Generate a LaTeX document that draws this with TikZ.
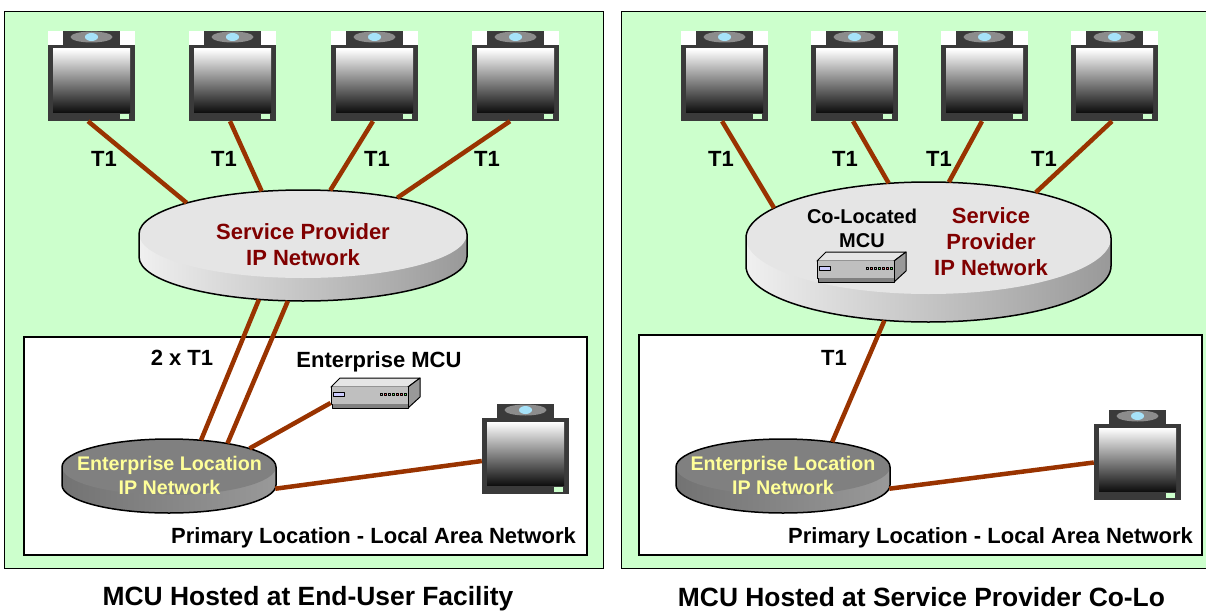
\documentclass[tikz,border=0pt]{standalone}
\usepackage{fontspec}
\setmainfont{Liberation Sans}
\usetikzlibrary{shapes.geometric}
\usetikzlibrary{positioning}

\definecolor{panelgreen}{HTML}{CCFFCC}
\definecolor{linkbrown}{HTML}{993300}
\definecolor{spred}{HTML}{800000}
\definecolor{entyellow}{HTML}{FFFF99}
\definecolor{framegray}{HTML}{3A3A3A}

\tikzset{
    panel/.style={draw=black,fill=panelgreen,line width=0.8pt},
    lan/.style={draw=black,fill=white,line width=1.5pt},
    link/.style={draw=linkbrown,line width=4.5pt},
    lbl/.style={font=\fontsize{22}{26}\selectfont\bfseries,align=center,inner sep=0pt},
    splabel/.style={lbl,text=spred},
    entlabel/.style={lbl,font=\fontsize{19.7}{24}\selectfont\bfseries,text=entyellow},
    caption/.style={font=\fontsize{26.4}{30}\selectfont\bfseries,inner sep=0pt},
    mculabel/.style={lbl,font=\fontsize{20}{24}\selectfont\bfseries},
    monbody/.style={rectangle,minimum width=87pt,minimum height=90pt,inner sep=0pt},
    mcubody/.style={rectangle,minimum width=77pt,minimum height=21pt,inner sep=0pt},
    lightdisk/.style={fill=black!10},
    darkdisk/.style={fill=black!50},
    lightside/.style={left color=black!6,right color=black!40},
    darkside/.style={left color=black!55,right color=black!40}
}

% name, left, top
\newcommand{\monitor}[3]{
    \begin{scope}[shift={(#2,-#3)}]
        \fill[white] (0,0) rectangle (87,-14);
        \fill[framegray] (15,0) rectangle (72,-14);
        \fill[black!45] (43.5,-6) ellipse [x radius=21,y radius=5.5];
        \fill[cyan!35] (43.5,-6) ellipse [x radius=6.5,y radius=4];
        \fill[framegray] (0,-14) rectangle (87,-90);
        \begin{scope}
            \clip (5,-18) rectangle (82,-81);
            \shade[top color=white,bottom color=black] (5,-18) rectangle (82,-85);
        \end{scope}
        \fill[panelgreen] (72,-83) rectangle (81,-88);
        \node[monbody] (#1) at (43.5,-45) {};
    \end{scope}
}

% name, left, top
\newcommand{\mcubox}[3]{
    \begin{scope}[shift={(#2,-#3)},line width=1pt,line join=round]
        \filldraw[fill=black!10] (0,-9) -- (9,0) -- (89,0) -- (77,-9) -- cycle;
        \filldraw[fill=black!40] (77,-9) -- (89,0) -- (89,-19) -- (77,-30) -- cycle;
        \fill[black!25] (0,-9) rectangle (77,-26);
        \fill[black!50] (1,-26) rectangle (77,-30);
        \draw (0,-9) -- (0,-26) -- (1,-26) -- (1,-30) -- (77,-30) -- (77,-9);
        \filldraw[fill=blue!20,line width=0.5pt] (2,-14) rectangle (13,-18);
        \foreach \ledx/\ledcol in {49/black!30,53/red!60,57/black!30,61/green!60,65/red!60,69/red!60,73/green!60}
            \filldraw[fill=\ledcol,line width=0.4pt] (\ledx,-15) rectangle +(2.5,-2.5);
        \node[mcubody] (#1) at (38.5,-19.5) {};
    \end{scope}
}

% name, centre x, centre y, x radius, y radius, depth, top style, side style
\newcommand{\ipdisk}[8]{
    \shade[#8] (#2-#4,-#3) -- (#2-#4,-#3-#6) arc [start angle=180,end angle=360,x radius=#4,y radius=#5]
        -- (#2+#4,-#3) arc [start angle=0,end angle=180,x radius=#4,y radius=#5] -- cycle;
    \node[ellipse,#7,minimum width=2*#4 pt,minimum height=2*#5 pt,inner sep=0pt] (#1) at (#2,-#3) {};
    \node[ellipse,minimum width=2*#4 pt,minimum height=2*#5 pt,inner sep=0pt] (#1b) at (#2,-#3-#6) {};
    \draw[line width=1.5pt] (#2-#4,-#3) -- (#2-#4,-#3-#6) arc [start angle=180,end angle=360,x radius=#4,y radius=#5]
        -- (#2+#4,-#3) arc [start angle=0,end angle=180,x radius=#4,y radius=#5];
}

\begin{document}
\begin{tikzpicture}[x=1pt,y=1pt]
    \useasboundingbox (0,-610) rectangle (1206,0);

    %%%%%%%%%%%%%%%%%%%
    %%% End-user facility
    %%%%%%%%%%%%%%%%%%%

    % the panels
    \path[panel] (4,-11) rectangle (603,-568);
    \path[lan] (24,-337) rectangle (587,-555);

    % the monitors
    \monitor{monA}{48}{31}
    \monitor{monB}{189}{31}
    \monitor{monC}{331}{31}
    \monitor{monD}{472}{31}
    \monitor{monE}{482}{404}

    % the networks and the box
    \ipdisk{spnet}{303}{234}{164}{44}{23}{lightdisk}{lightside}
    \ipdisk{entnet}{169}{467}{107}{28}{18}{darkdisk}{darkside}
    \mcubox{mcu}{331}{378}

    % the links
    \draw[link] ([xshift=-3.5pt]monA.south) -- (spnet.165);
    \draw[link] ([xshift=-2.5pt]monB.south) -- (spnet.134);
    \draw[link] ([xshift=-1.5pt]monC.south) -- (spnet.58);
    \draw[link] ([xshift=-5.5pt]monD.south) -- (spnet.21);
    \draw[link] (spnetb.224) -- (entnet.40);
    \draw[link] (spnetb.251) -- (entnet.22);
    \draw[link] (entnet.13) -- ([yshift=-5.5pt]mcu.west);
    \draw[link] (entnetb.358) -- ([yshift=-12pt]monE.west);

    % the labels
    \node[lbl] (tA) at (104,-159) {T1};
    \node[lbl] (tB) at (224,-159) {T1};
    \node[lbl] (tC) at (377,-159) {T1};
    \node[lbl] (tD) at (487,-159) {T1};
    \node[lbl] (tE) at (182,-358) {2 x T1};
    \node[splabel] (sptxt) at (303,-245) {Service Provider\\IP Network};
    \node[lbl] (mcutxt) at (379,-362) {Enterprise MCU};
    \node[entlabel] (enttxt) at (169.5,-475) {Enterprise Location\\IP Network};
    \node[lbl] (lantxt) at (373.5,-538) {Primary Location - Local Area Network};
    \node[caption] (captxt) at (308,-599) {MCU Hosted at End-User Facility};

    %%%%%%%%%%%%%%%%%%%
    %%% Service provider co-lo
    %%%%%%%%%%%%%%%%%%%

    % the panels
    \path[panel] (621,-11) rectangle (1210,-568);
    \path[lan] (639,-335) rectangle (1202,-555);

    % the monitors
    \monitor{monF}{681}{31}
    \monitor{monG}{811}{31}
    \monitor{monH}{941}{31}
    \monitor{monI}{1071}{31}
    \monitor{monJ}{1094}{410}

    % the networks and the box
    \ipdisk{spnetR}{928.5}{238}{182.5}{56}{28}{lightdisk}{lightside}
    \ipdisk{entnetR}{783}{467}{107}{28}{18}{darkdisk}{darkside}
    \mcubox{mcuR}{817}{252}

    % the links
    \draw[link] ([xshift=-2.5pt]monF.south) -- (spnetR.169);
    \draw[link] ([xshift=-1.5pt]monG.south) -- (spnetR.126);
    \draw[link] ([xshift=-2.5pt]monH.south) -- (spnetR.70);
    \draw[link] ([xshift=-2.5pt]monI.south) -- (spnetR.23);
    \draw[link] (spnetRb.231) -- (entnetR.27);
    \draw[link] (entnetRb.358) -- ([yshift=-7.5pt]monJ.west);

    % the labels
    \node[lbl] (tF) at (721,-159) {T1};
    \node[lbl] (tG) at (845,-159) {T1};
    \node[lbl] (tH) at (939,-159) {T1};
    \node[lbl] (tI) at (1044,-159) {T1};
    \node[lbl] (tJ) at (834,-358) {T1};
    \node[mculabel] (mcutxtR) at (862,-228) {Co-Located\\MCU};
    \node[splabel] (sptxtR) at (991,-242) {Service\\Provider\\IP Network};
    \node[entlabel] (enttxtR) at (783,-475) {Enterprise Location\\IP Network};
    \node[lbl] (lantxtR) at (990.5,-538) {Primary Location - Local Area Network};
    \node[caption] (captxtR) at (921.5,-597) {MCU Hosted at Service Provider Co-Lo};
\end{tikzpicture}
\end{document}
